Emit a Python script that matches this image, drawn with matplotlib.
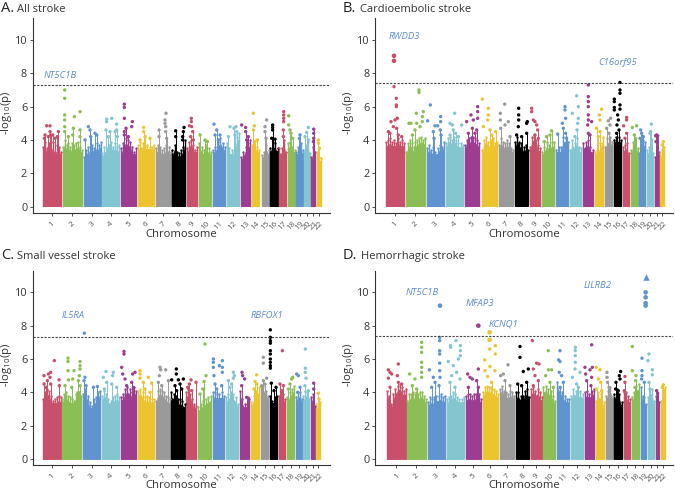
import numpy as np
import matplotlib
matplotlib.use("Agg")
import matplotlib.pyplot as plt

plt.rcParams['font.family'] = ['Open Sans', 'DejaVu Sans']
plt.rcParams['mathtext.fontset'] = 'custom'
plt.rcParams['mathtext.rm'] = 'Open Sans'
plt.rcParams['mathtext.default'] = 'regular'

chromosomes = [str(i) for i in range(1, 23)]
palette = ['#C8506A', '#8BBF56', '#5F94D0', '#84C6D0', '#9C3D92', '#EBC42F', '#9A9A9A', '#000000']
y_ticks = [0, 2, 4, 6, 8, 10]

# ---------- A. All stroke ----------
a_starts = [128,188,252,307,364,414,468,517,562,598,638,681,722,755,785,810,838,863,889,911,934,950]
a_ends   = [183,246,302,358,408,463,512,556,592,633,676,717,751,778,806,833,858,884,908,930,946,962]
a_sky = [[3.6,3.9,3.5,3.8,3.4,3.9,3.3,3.7,3.6,3.3],[3.6,4.0,3.7,3.8,3.6,3.8,3.7,3.8,3.9,3.6,3.4],
         [3.0,3.4,3.6,3.3,3.7,3.5,3.8,3.7,3.9],[3.2,3.6,3.5,3.7,3.9,3.6,3.8,3.6,3.7],
         [3.5,3.8,4.1,4.0,3.9,3.6,3.3,3.5],[3.7,3.9,3.8,3.6,3.7,3.6,3.6,3.7],
         [3.5,3.7,3.6,3.4,3.5,3.7,3.6,3.3],[3.4,3.7,3.3,3.2,3.4,3.6,4.0],
         [3.5,3.9,4.0,3.7,3.4,3.6],[3.8,3.6,3.4,3.7,3.5,3.3],[3.4,3.6,3.9,4.1,3.8,3.6],
         [3.8,3.5,3.4,3.3,4.2,4.4],[3.0,3.3,3.6,3.8,4.0],[3.7,3.9,3.6,3.4],[3.1,3.3,3.7,3.4],
         [3.5,3.9,3.8,3.5],[3.5,3.5,4.0,3.3],[3.8,3.9,3.6,3.4],[3.3,3.6,3.8,3.4],
         [3.3,3.7,3.9,3.2],[3.0,3.6,3.3],[3.3,3.0,2.9]]
a_peaks = [(135,4.3),(140,4.85),(150,4.85),(150,4.5),(152,4.3),(158,4.3),(145,4.2),(175,4.5),(172,4.2),(165,4.1),(133,4.1),
           (194,7.0),(194,6.5),(194,5.5),(194,5.2),(194,4.8),(194,4.5),(223,5.4),(240,5.7),(220,4.7),(240,4.6),(240,4.2),(218,4.3),(205,4.2),
           (265,4.8),(270,4.6),(285,4.4),(290,4.3),(272,4.2),(255,4.0),
           (320,5.25),(335,5.3),(320,5.1),(350,4.95),(318,4.6),(330,4.5),(345,4.5),(350,4.6),(352,4.2),(325,4.2),
           (373,6.15),(373,5.95),(373,5.3),(397,5.1),(395,4.8),(378,4.7),(373,4.5),(373,4.3),(385,4.2),
           (431,4.75),(431,4.5),(435,4.2),(450,4.1),(420,4.0),
           (498,5.6),(495,5.2),(495,5.0),(497,4.8),(497,4.5),(477,4.6),(477,4.2),(500,4.1),
           (527,4.55),(552,4.75),(550,4.5),(548,4.2),(527,4.2),(548,4.0),
           (574,5.3),(574,5.1),(568,4.85),(575,4.8),(578,4.5),(572,4.2),(580,4.0),
           (600,4.3),(615,4.0),(622,3.9),
           (642,4.95),(650,4.6),(645,4.3),(660,4.3),(655,4.0),
           (690,4.8),(708,4.8),(702,4.7),(710,4.5),(705,4.3),(685,4.2),
           (725,4.9),(737,4.75),(737,4.5),(745,4.2),(740,4.0),
           (760,5.6),(763,4.85),(760,4.6),(772,4.0),(765,3.9),
           (800,5.2),(795,4.8),(795,4.5),(798,4.1),
           (818,4.9),(818,4.75),(818,4.6),(815,4.1),(825,4.05),
           (851,5.7),(851,5.5),(851,5.3),(851,5.1),(850,4.6),(850,4.2),
           (866,5.45),(866,4.9),(870,4.6),(873,4.4),(878,4.1),
           (900,4.3),(898,4.1),(925,4.75),(920,4.45),(915,4.2),(925,4.0),
           (941,4.65),(941,4.4),(941,4.1),(940,3.9),(955,4.0),(955,3.8),(958,3.5)]
a_hits = []
a_line = 7.3
a_labels = [('NT5C1B', 132, 7.86)]

# ---------- B. Cardioembolic stroke ----------
b_starts = [153,213,276,333,389,440,492,541,585,621,664,705,745,779,809,836,863,888,913,936,959,976]
b_ends   = [208,270,327,383,433,487,534,578,616,657,699,739,773,803,831,858,882,908,931,953,971,988]
b_sky = [[3.9,4.0,4.1,3.9,4.0,3.8,4.1,3.9,4.0,3.8],[3.3,3.8,4.0,3.8,3.6,3.9,4.0,4.1,4.2,4.0,4.1],
         [3.5,3.7,3.4,3.6,3.3,3.5,3.7,3.6,3.9],[3.8,4.1,4.2,4.0,4.2,4.0,3.8,3.8,3.7],
         [3.7,4.0,4.1,4.2,4.2,4.1,4.0,3.8],[3.4,4.0,4.2,3.9,4.0,4.1,3.8,3.9],
         [3.7,4.1,3.9,3.8,4.0,3.8,3.5,3.4],[3.9,4.2,3.9,3.8,3.6,3.7,3.4],
         [3.6,4.2,4.3,4.0,3.7,3.5],[3.3,3.6,3.9,3.7,3.9,3.9],[3.4,3.6,3.6,4.2,4.2,3.9],
         [3.4,4.0,3.8,4.1,3.6,3.5],[3.8,3.9,4.0,3.6,3.4],[3.3,3.4,3.8,4.2],[3.6,4.1,4.2,3.9],
         [4.0,4.2,4.2,4.0],[3.6,3.7,3.8,3.2],[3.4,3.9,4.0,3.5],[3.2,3.7,4.0,3.9],
         [3.4,3.6,3.7,3.2],[3.0,3.6,3.3],[3.2,3.4,3.6]]
b_peaks = [(177,7.2),(184,6.5),(184,6.1),(184,6.0),(187,5.3),(180,5.2),(168,5.1),(175,4.8),(160,4.5),(185,4.7),(165,4.4),(190,4.3),(200,4.2),
           (252,7.0),(252,6.85),(244,5.6),(265,5.7),(262,5.4),(262,5.1),(222,5.0),(228,5.0),(245,5.0),(255,4.8),(240,4.6),(232,4.3),
           (286,6.1),(278,5.15),(317,5.4),(317,5.1),(300,4.85),(308,4.85),(295,4.5),(316,4.6),(318,4.3),(297,4.1),
           (359,5.6),(345,5.0),(352,4.9),(380,4.9),(355,4.6),(362,4.4),(345,4.3),(370,4.2),
           (408,5.5),(428,6.0),(428,5.7),(428,5.3),(395,5.1),(415,5.2),(412,4.7),(420,4.4),(400,4.4),(425,4.6),
           (442,6.45),(460,5.9),(460,5.5),(458,5.2),(445,4.8),(465,4.6),(470,4.3),(482,4.5),
           (509,6.15),(496,5.6),(496,5.2),(520,5.1),(510,4.9),(497,4.7),(525,4.2),
           (551,5.9),(551,5.5),(551,5.2),(577,5.1),(575,5.0),(550,4.8),(575,4.4),(560,4.2),(545,4.3),
           (590,5.9),(590,5.7),(600,5.1),(595,5.2),(605,4.9),(608,4.6),(600,4.3),(610,4.1),
           (650,4.55),(645,4.3),(635,4.2),(628,3.9),
           (690,6.0),(690,5.8),(692,5.3),(682,5.0),(685,4.7),(668,4.35),(692,4.4),(695,4.1),
           (725,6.65),(730,6.0),(712,5.6),(730,5.3),(728,5.0),(726,4.6),(720,4.2),
           (760,7.3),(760,6.6),(760,6.3),(760,6.0),(760,5.5),(760,5.2),(770,5.1),(758,4.9),(760,4.4),(765,4.3),
           (800,5.85),(793,5.5),(795,5.2),(785,4.7),(795,4.5),(790,4.2),
           (827,5.3),(820,5.15),(825,4.9),(815,4.7),(822,4.4),
           (855,7.45),(855,7.0),(855,6.8),(838,6.45),(838,6.3),(838,5.95),(855,6.1),(855,5.85),(838,5.8),(848,5.5),(850,5.2),(846,4.9),(852,4.6),(845,4.4),
           (875,5.35),(875,5.2),(866,4.85),(875,4.4),(870,4.1),
           (892,4.75),(905,4.85),(898,4.3),(902,4.1),(917,4.6),(920,4.4),(925,4.2),(915,4.1),
           (949,4.95),(947,4.5),(945,4.4),(950,4.0),(965,4.3),(962,4.25),(968,4.25),(963,3.9),(985,3.9),(982,3.7)]
b_hits = [(177,9.05),(177,8.75)]
b_line = 7.4
b_labels = [('RWDD3', 160, 10.2), ('C16orf95', 791, 8.64)]

# ---------- C. Small vessel stroke ----------
c_starts = [128,186,250,306,363,414,467,514,559,595,638,678,720,753,783,809,836,862,888,910,933,949]
c_ends   = [182,244,300,357,408,462,510,554,589,632,672,714,747,777,805,832,856,882,906,928,945,961]
c_sky = [[3.6,4.0,4.2,4.1,3.8,3.5,3.6,3.7,3.8,3.7],[3.6,3.9,4.0,3.8,3.7,3.6,3.5,3.9,4.0,4.0,3.8],
         [3.9,4.2,3.8,3.4,3.2,3.6,3.7,4.0,4.1],[3.8,4.1,3.9,3.6,3.5,3.7,3.8,3.9,3.7],
         [3.7,3.9,4.2,4.3,4.2,4.0,4.3,4.1],[4.1,4.2,4.0,3.7,3.8,3.7,3.6,3.6],
         [3.5,4.1,4.2,4.1,4.0,3.8,3.7,3.6],[4.0,3.9,3.8,3.6,3.6,3.5,3.3],
         [4.0,4.2,3.9,3.6,3.3,3.2],[3.1,3.3,3.5,3.6,3.7,3.8],[4.0,4.0,3.9,3.9,4.0,3.8],
         [3.7,3.9,4.0,3.9,3.7,3.3],[4.1,3.6,3.3,3.3,3.6],[3.4,3.8,4.1,4.3],[4.4,4.4,4.1,3.8],
         [3.8,3.5,3.7,3.8],[3.8,4.0,3.9,3.6],[3.7,4.0,4.2,4.4],[3.7,4.0,4.0,3.6],
         [3.8,4.1,4.0,3.6],[3.7,3.9,3.2],[3.3,3.2,3.4]]
c_peaks = [(163,5.9),(152,5.2),(145,5.1),(132,5.0),(150,4.9),(177,4.75),(142,4.7),(132,4.5),(152,4.5),(178,4.4),(138,4.3),
           (204,6.05),(204,5.85),(204,5.3),(222,5.3),(240,5.85),(240,5.6),(240,5.4),(238,5.0),(218,4.8),(205,4.75),(235,4.7),(240,4.4),(195,4.4),(215,4.3),
           (253,7.55),(255,4.9),(252,4.7),(258,4.4),(280,4.3),(292,4.35),
           (318,5.25),(340,5.2),(338,5.0),(310,4.9),(320,4.6),(335,4.5),(350,4.3),(313,4.2),
           (372,6.45),(372,6.3),(365,5.5),(368,5.1),(405,5.2),(398,5.1),(375,4.8),(395,4.6),(380,4.4),(400,4.3),
           (420,5.3),(420,5.1),(420,4.85),(445,4.9),(430,4.6),(455,4.55),(435,4.2),(450,4.0),
           (480,5.5),(482,5.35),(497,5.35),(478,5.0),(505,4.7),(475,4.6),(485,4.4),
           (529,5.4),(529,5.1),(515,4.75),(550,4.8),(535,4.75),(540,4.5),(525,4.4),(545,4.2),(530,4.1),
           (573,4.75),(588,4.6),(568,4.5),(563,4.3),(575,4.1),
           (615,6.9),(618,5.0),(612,4.65),(608,4.2),(600,3.9),
           (640,6.0),(640,5.8),(640,5.5),(658,5.6),(667,5.9),(667,5.5),(667,5.2),(642,5.0),(645,4.5),(665,4.4),(650,4.2),
           (700,5.2),(703,5.0),(700,4.85),(685,4.7),(695,4.5),(690,4.3),
           (726,5.2),(728,5.0),(734,4.8),(725,4.4),(740,3.7),(745,3.65),
           (770,5.05),(765,4.65),(770,4.5),(762,4.2),
           (790,6.1),(790,5.75),(800,4.85),(790,4.7),(795,4.5),(785,4.4),
           (811,7.75),(811,7.3),(811,7.1),(811,6.95),(811,6.5),(811,6.3),(811,6.0),(811,5.8),(811,5.6),(811,5.45),(814,4.55),(828,4.3),(822,4.1),
           (847,6.5),(840,4.5),(850,4.4),(845,4.1),
           (878,4.9),(875,4.8),(870,4.5),(865,4.2),
           (890,5.1),(895,5.0),(900,4.3),(893,4.0),
           (916,6.6),(916,5.45),(916,5.2),(918,4.85),(915,4.4),(925,4.1),
           (941,4.55),(941,4.2),(955,3.95),(957,3.6)]
c_hits = []
c_line = 7.3
c_labels = [('IL5RA', 186, 8.6), ('RBFOX1', 751, 8.6)]

# ---------- D. Hemorrhagic stroke ----------
d_starts = [157,216,279,335,393,443,495,544,589,625,667,708,749,782,812,838,866,890,917,939,962,979]
d_ends   = [212,273,330,386,437,489,538,583,620,661,703,743,777,806,833,860,885,911,934,956,973,990]
d_sky = [[4.1,3.8,3.3,3.9,4.2,4.4,4.5,4.3,4.1,4.2],[3.5,3.9,3.9,4.0,3.9,4.0,3.9,4.0,4.0,3.8,3.6],
         [3.4,3.7,3.6,3.7,3.8,3.8,3.9,3.7,3.8],[3.6,3.7,3.8,4.0,3.9,3.7,3.6,3.6,3.7],
         [3.8,3.9,3.9,3.8,3.9,3.9,3.9,3.6],[4.0,4.3,4.4,4.3,4.3,4.2,4.1,3.9],
         [4.2,4.4,4.1,4.0,3.9,4.1,4.0,3.8],[4.0,4.0,3.8,3.8,4.1,4.2,3.7],
         [4.2,4.3,4.1,4.2,4.0,3.7],[4.3,4.4,4.2,4.1,3.8,3.5],[4.6,4.3,4.0,3.8,3.6,3.6],
         [3.8,4.2,4.1,4.0,4.1,3.9],[4.0,4.1,3.9,4.1,4.2],[3.5,4.0,3.9,3.4],[3.8,4.1,4.3,3.8],
         [3.9,4.2,3.9,3.4],[4.0,4.0,3.8,3.6],[3.7,4.0,4.4,4.5],[4.3,3.8,3.7,3.3],
         [3.7,4.2,4.2,3.5],[3.8,3.9,3.4],[3.5,4.0,4.3]]
d_peaks = [(160,5.35),(165,5.2),(190,5.7),(170,5.1),(187,5.0),(160,4.85),(190,4.6),(200,4.5),(165,4.3),
           (224,5.1),(240,4.8),(260,7.0),(260,6.7),(260,6.4),(260,5.8),(260,5.5),(260,5.2),(260,4.9),(232,4.4),(245,4.2),
           (314,7.3),(314,7.1),(314,6.5),(314,6.3),(314,5.75),(314,5.3),(283,5.35),(295,4.9),(315,4.9),(290,4.3),(300,4.6),(312,4.4),
           (363,7.1),(347,6.8),(347,6.7),(376,6.8),(376,6.5),(376,6.2),(370,6.0),(340,5.85),(355,5.6),(365,5.2),(350,5.0),(375,4.8),(345,4.6),(360,4.3),
           (430,5.4),(398,5.1),(405,4.9),(412,4.8),(425,4.7),(430,4.3),(400,4.3),
           (481,6.8),(464,6.6),(481,6.3),(449,5.95),(465,5.55),(450,5.3),(480,5.3),(458,4.95),(470,4.6),
           (519,5.65),(505,5.1),(497,5.0),(510,4.7),(525,4.4),
           (555,6.75),(555,6.1),(580,5.4),(565,5.25),(548,4.5),(575,4.6),(560,4.4),
           (592,7.1),(605,5.75),(612,5.7),(595,5.4),(600,5.0),(610,4.7),(595,4.4),
           (640,6.5),(640,5.35),(650,5.35),(632,5.0),(645,4.6),(655,4.3),
           (675,6.5),(671,5.95),(675,5.85),(673,5.2),(680,5.0),(685,4.6),(675,4.3),
           (721,6.7),(721,6.5),(721,6.2),(721,5.8),(720,5.4),(735,5.2),(712,4.9),(725,4.5),(730,4.3),
           (770,6.85),(750,5.5),(772,5.5),(765,5.35),(752,5.1),(770,4.9),(755,4.7),(768,4.4),
           (784,5.5),(795,5.35),(790,4.8),(797,4.6),(785,4.2),(800,4.1),
           (816,5.2),(816,4.9),(818,4.6),(822,4.3),
           (857,5.25),(853,5.0),(855,4.8),(843,4.6),(842,4.2),(850,4.1),
           (870,4.95),(870,4.6),(868,4.1),
           (892,6.75),(892,5.3),(903,5.0),(902,4.7),(900,4.3),
           (921,6.05),(921,5.3),(921,5.0),(928,4.6),(920,4.8),
           (942,6.3),(939,5.9),(952,5.35),(952,5.05),(942,4.6),(945,4.2),
           (965,4.1),(968,3.95),(985,4.45),(982,4.3),(988,4.1)]
d_hits = [(315,9.2),(430,8.0),(464,7.6),(464,7.15),(932,10.0),(932,9.7),(932,9.35),(932,9.2)]
d_triangles = [(932,10.95)]
d_line = 7.4
d_labels = [('NT5C1B', 212, 9.98), ('MFAP3', 393, 9.34), ('KCNQ1', 462, 8.12), ('LILRB2', 745, 10.4)]

W, H = 675, 491
fig = plt.figure(figsize=(W/100, H/100), dpi=100)

def panel(box, xlim, ylim, letter, name, lx, tx, ty, ylx, starts, ends, sky, peaks, hits, line, labels, triangles=()):
    l, t, r, b = box
    ax = fig.add_axes([l/W, 1-b/H, (r-l)/W, (b-t)/H])
    cols = [palette[i % 8] for i in range(22)]
    px = np.array([p[0] for p in peaks]); py = np.array([p[1] for p in peaks])
    idx = np.clip(np.searchsorted(starts, px, side='right')-1, 0, 21)
    for i in range(22):
        xs = np.linspace(starts[i], ends[i], len(sky[i]))
        lvl = np.array(sky[i])
        # solid body, then a comb of columns that gives the speckled upper edge
        ax.fill_between([starts[i], ends[i]], 0.02, lvl.min() - 0.15, color=cols[i], lw=0.5, zorder=2)
        ax.fill_between(xs, 0.02, lvl - 0.3, color=cols[i], lw=0.3, zorder=2)
        ax.vlines(xs, 0.02, lvl, color=cols[i], lw=1.0, zorder=2)
        ax.scatter(xs, lvl, s=3, color=cols[i], lw=0, zorder=3)
    low = py <= 4.7
    ax.vlines(px[low], 0.5, py[low], colors=[cols[i] for i in idx[low]], lw=0.7, zorder=2)
    ax.scatter(px, py, s=6, c=[cols[i] for i in idx], lw=0, zorder=3)
    if hits:
        hx = np.array([p[0] for p in hits]); hy = np.array([p[1] for p in hits])
        hi = np.clip(np.searchsorted(starts, hx, side='right')-1, 0, 21)
        ax.scatter(hx, hy, s=11, c=[cols[i] for i in hi], lw=0, zorder=3)
    for tx_, ty_ in triangles:
        ax.scatter([tx_], [ty_], s=22, marker='^', color=cols[int(np.searchsorted(starts, tx_, side='right')-1)], lw=0, zorder=3)
    ax.axhline(line, color='#444444', lw=0.8, ls=(0, (2, 1.3)), zorder=4)
    for txt, x, y in labels:
        ax.text(x, y, txt, color='#5B8BD0', style='italic', fontsize=6.8, ha='left', va='center')
    ax.set_xlim(*xlim); ax.set_ylim(*ylim)
    ax.set_yticks(y_ticks)
    ax.set_xticks([(s+e)/2 for s, e in zip(starts, ends)])
    ax.set_xticklabels(chromosomes, rotation=45, fontsize=5.8, color='#555555')
    ax.tick_params(axis='x', length=2.5, width=0.6, pad=2.5, color='#333333')
    ax.tick_params(axis='y', length=2.5, width=0.6, pad=1.5, labelsize=7.8, labelcolor='#333333', color='#333333')
    for s in ['top', 'right']:
        ax.spines[s].set_visible(False)
    for s in ['left', 'bottom']:
        ax.spines[s].set_linewidth(0.8); ax.spines[s].set_color('#333333')
    fig.text((l+r)/2/W, 1-(b+21)/H, 'Chromosome', fontsize=8.1, color='#333333', ha='center', va='center')
    fig.text(ylx/W, 1-(t+b-6)/2/H, '-log$_{10}$(p)', fontsize=8.2, color='#333333', rotation=90, ha='center', va='center')
    fig.text(lx/W, 1-ty/H, letter, fontsize=10.5, color='#222222', ha='left', va='baseline')
    fig.text(tx/W, 1-ty/H, name, fontsize=8, color='#333333', ha='left', va='baseline')

panel((32.7, 18.3, 330, 213.3), (98, 990), (-0.4, 11.3), 'A.', 'All stroke', 1, 17, 12,
      7, a_starts, a_ends, a_sky, a_peaks, a_hits, a_line, a_labels)
panel((375, 18.3, 673.3, 213.3), (120, 1015), (-0.4, 11.3), 'B.', 'Cardioembolic stroke', 343, 360, 12,
      348, b_starts, b_ends, b_sky, b_peaks, b_hits, b_line, b_labels)
panel((32.7, 271, 330, 465), (98, 990), (-0.36, 11.28), 'C.', 'Small vessel stroke', 1, 17, 259,
      7, c_starts, c_ends, c_sky, c_peaks, c_hits, c_line, c_labels)
panel((375, 271, 673.3, 465), (120, 1015), (-0.36, 11.28), 'D.', 'Hemorrhagic stroke', 343, 361, 259,
      348, d_starts, d_ends, d_sky, d_peaks, d_hits, d_line, d_labels, d_triangles)

fig.savefig('out.png', dpi=100)
